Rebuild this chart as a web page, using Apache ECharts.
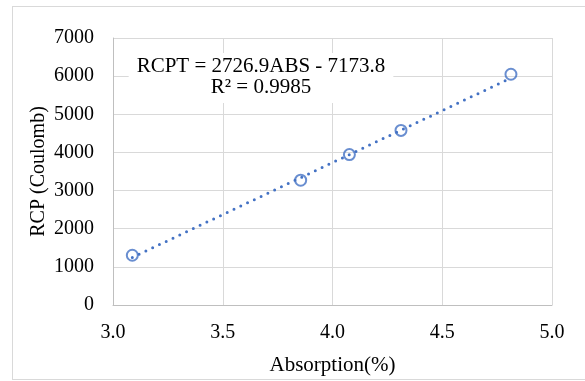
<!DOCTYPE html>
<html>
<head>
<meta charset="utf-8">
<script src="https://cdn.jsdelivr.net/npm/echarts@6/dist/echarts.min.js"></script>
<style>
  html, body { margin: 0; padding: 0; background: #fff; }
  #frame { position: absolute; left: 12px; top: 6px; width: 580px; height: 374px; border: 1px solid #d9d9d9; box-sizing: border-box; }
  #chart { position: absolute; left: 0; top: 0; width: 585px; height: 381px; }
</style>
</head>
<body>
<div id="frame"></div>
<div id="chart"></div>
<script>
// ---- data ----
const absorption = [3.088, 3.855, 4.077, 4.312, 4.813];
const rcp = [1305, 3272, 3943, 4577, 6050];
const xTicks = [3.0, 3.5, 4.0, 4.5, 5.0];
const yTicks = [0, 1000, 2000, 3000, 4000, 5000, 6000, 7000];
const trendSlope = 2726.9;
const trendIntercept = -7173.8;
const trendR2 = 0.9985;
const xTitle = 'Absorption(%)';
const yTitle = 'RCP (Coulomb)';

const FONT = "'Liberation Serif', 'Times New Roman', serif";
const BLUE = '#4472C4';

const points = absorption.map((x, i) => [x, rcp[i]]);
const xMin = Math.min(...absorption), xMax = Math.max(...absorption);
const trend = [[xMin, trendSlope * xMin + trendIntercept], [xMax, trendSlope * xMax + trendIntercept]];
const eqText = 'RCPT = ' + trendSlope.toFixed(1) + 'ABS - ' + Math.abs(trendIntercept).toFixed(1) + '\nR² = ' + trendR2.toFixed(4);

const chart = echarts.init(document.getElementById('chart'), null, { renderer: 'canvas' });
chart.setOption({
  animation: false,
  backgroundColor: 'transparent',
  grid: { left: 113, right: 33, top: 38, bottom: 75, containLabel: false },
  xAxis: {
    type: 'value', min: xTicks[0], max: xTicks[xTicks.length - 1], interval: 0.5,
    name: xTitle, nameLocation: 'middle', nameGap: 50,
    nameTextStyle: { fontFamily: FONT, fontSize: 21, color: '#000' },
    axisLine: { show: true, lineStyle: { color: '#bfbfbf', width: 1 } },
    axisTick: { show: false },
    axisLabel: { fontFamily: FONT, fontSize: 20, color: '#000', margin: 18, formatter: v => v.toFixed(1) },
    splitLine: { show: true, lineStyle: { color: '#d9d9d9', width: 1 } }
  },
  yAxis: {
    type: 'value', min: yTicks[0], max: yTicks[yTicks.length - 1], interval: 1000,
    name: yTitle, nameLocation: 'middle', nameGap: 64, nameRotate: 90, nameMoveOverlap: false,
    nameTextStyle: { fontFamily: FONT, fontSize: 20, color: '#000' },
    axisLine: { show: true, lineStyle: { color: '#bfbfbf', width: 1 } },
    axisTick: { show: false },
    axisLabel: { fontFamily: FONT, fontSize: 20, color: '#000', margin: 19, formatter: v => String(v) },
    splitLine: { show: true, lineStyle: { color: '#d9d9d9', width: 1 } }
  },
  graphic: [{
    type: 'text', z: 10,
    x: 261, y: 53,
    style: {
      text: eqText, font: '21px ' + FONT, fill: '#000', align: 'center', verticalAlign: 'top',
      lineHeight: 21, backgroundColor: '#fff', padding: [3, 8, 5, 8]
    }
  }],
  series: [
    {
      type: 'line', data: trend, showSymbol: false, symbol: 'none', silent: true, z: 3,
      lineStyle: { color: BLUE, width: 3, type: [0, 7.5], cap: 'round' }
    },
    {
      type: 'scatter', data: points, symbol: 'circle', symbolSize: 11, z: 4,
      itemStyle: { color: 'rgba(255,255,255,0)', borderColor: BLUE, borderWidth: 2 }
    }
  ]
});
</script>
</body>
</html>
